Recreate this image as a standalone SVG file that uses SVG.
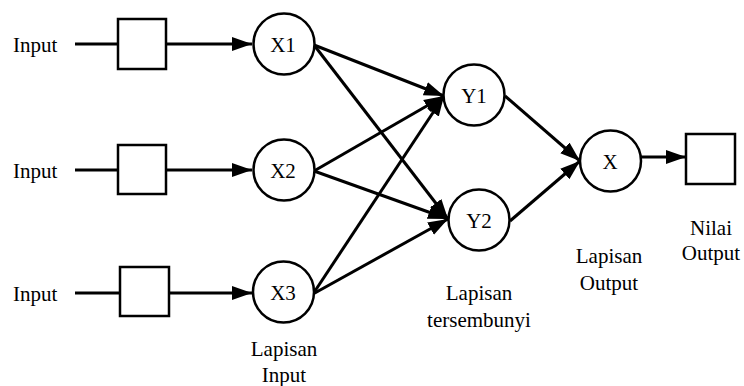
<svg xmlns="http://www.w3.org/2000/svg" width="744" height="386" viewBox="0 0 744 386">
<defs>
<style>
.n{fill:#fff;stroke:#000;stroke-width:2.5}
.e{fill:none;stroke:#000;stroke-width:3}
text{font-family:'Liberation Serif','DejaVu Serif',serif;font-size:21px;fill:#000}
.t{text-anchor:middle}
</style>
<marker id="ah" markerUnits="userSpaceOnUse" markerWidth="22" markerHeight="16" refX="20" refY="7" orient="auto" viewBox="0 0 22 14">
<path d="M0,0 L20,7 L0,14 Z" fill="#000"/>
</marker>
</defs>
<g id="connectors">
<line class="e" x1="75" y1="44" x2="118" y2="44"/>
<line class="e" x1="166" y1="44" x2="252" y2="44" marker-end="url(#ah)"/>
<line class="e" x1="75" y1="170" x2="118" y2="170"/>
<line class="e" x1="166" y1="170" x2="252" y2="170" marker-end="url(#ah)"/>
<line class="e" x1="75" y1="293" x2="120" y2="293"/>
<line class="e" x1="169" y1="293" x2="252" y2="293" marker-end="url(#ah)"/>
<line class="e" x1="314" y1="45" x2="444" y2="96" marker-end="url(#ah)"/>
<line class="e" x1="314" y1="45" x2="448" y2="219" marker-end="url(#ah)"/>
<line class="e" x1="314" y1="171" x2="444" y2="96" marker-end="url(#ah)"/>
<line class="e" x1="314" y1="171" x2="448" y2="219" marker-end="url(#ah)"/>
<line class="e" x1="313" y1="294" x2="444" y2="96" marker-end="url(#ah)"/>
<line class="e" x1="313" y1="294" x2="448" y2="219" marker-end="url(#ah)"/>
<line class="e" x1="505" y1="96" x2="580" y2="161" marker-end="url(#ah)"/>
<line class="e" x1="510" y1="221" x2="580" y2="161" marker-end="url(#ah)"/>
<line class="e" x1="641" y1="157" x2="686" y2="157" marker-end="url(#ah)"/>
</g>
<g id="input1"><text x="13" y="52" font-family="Liberation Serif, serif">Input</text><rect class="n" x="118" y="19" width="48" height="50"/></g>
<g id="input2"><text x="13" y="178" font-family="Liberation Serif, serif">Input</text><rect class="n" x="118" y="145" width="48" height="49"/></g>
<g id="input3"><text x="13" y="301" font-family="Liberation Serif, serif">Input</text><rect class="n" x="120" y="267" width="49" height="49"/></g>
<g id="X1"><circle class="n" cx="284" cy="44" r="30.5"/><text class="t" x="283" y="51.5">X1</text></g>
<g id="X2"><circle class="n" cx="284" cy="170" r="30.5"/><text class="t" x="283" y="177.5">X2</text></g>
<g id="X3"><circle class="n" cx="283.5" cy="292" r="30.5"/><text class="t" x="283" y="300">X3</text></g>
<g id="Y1"><circle class="n" cx="474" cy="95" r="30.5"/><text class="t" x="474" y="102.5">Y1</text></g>
<g id="Y2"><circle class="n" cx="479" cy="220" r="30.5"/><text class="t" x="479" y="227.5">Y2</text></g>
<g id="X"><circle class="n" cx="610.5" cy="161" r="30.5"/><text class="t" x="610" y="168.5">X</text></g>
<g id="output"><rect class="n" x="686" y="134" width="49" height="50"/></g>
<g id="labels">
<text class="t" x="284" y="356">Lapisan</text>
<text class="t" x="284" y="382">Input</text>
<text class="t" x="479" y="300">Lapisan</text>
<text class="t" x="479" y="327">tersembunyi</text>
<text class="t" x="609" y="263">Lapisan</text>
<text class="t" x="609" y="290">Output</text>
<text class="t" x="711" y="235">Nilai</text>
<text class="t" x="711" y="260">Output</text>
</g>
</svg>
